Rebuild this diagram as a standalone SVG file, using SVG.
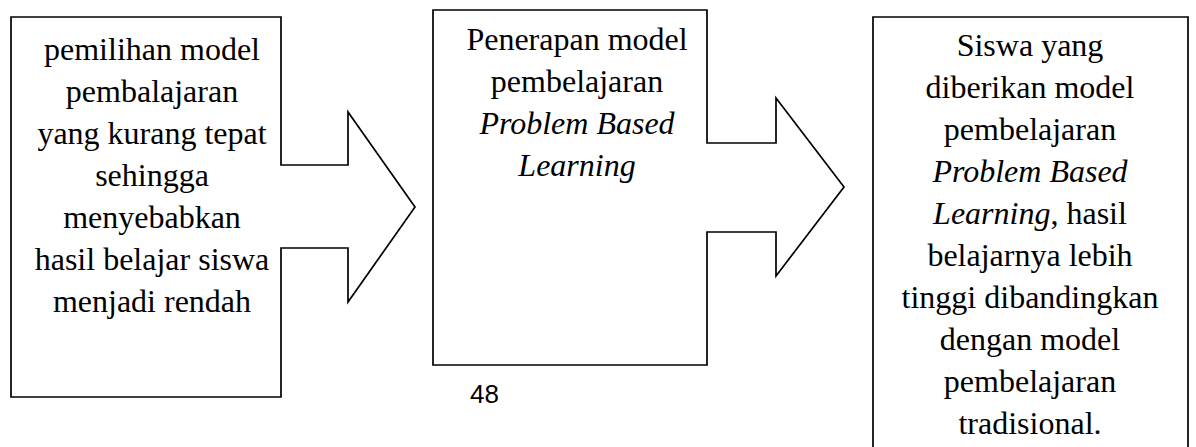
<svg xmlns="http://www.w3.org/2000/svg" width="1196" height="447" viewBox="0 0 1196 447">
<style>
.shape{fill:#fff;stroke:#000;stroke-width:1.7;stroke-linejoin:miter}
.t{font-family:"Liberation Serif","Times New Roman",serif;font-size:32px;fill:#000;text-anchor:middle}
.i{font-style:italic}
.pg{font-family:"Liberation Sans",Arial,sans-serif;font-size:26px;fill:#000}
</style>
<rect width="1196" height="447" fill="#fff"/>
<g id="node-1">
<path class="shape" d="M11,17 H281 V165 H348 V112 L415,207 L348,302 V248 H281 V397 H11 Z"/>
<text class="t" x="152" y="60">pemilihan model</text>
<text class="t" x="152" y="102">pembalajaran</text>
<text class="t" x="152" y="144">yang kurang tepat</text>
<text class="t" x="152" y="186">sehingga</text>
<text class="t" x="152" y="228">menyebabkan</text>
<text class="t" x="152" y="270">hasil belajar siswa</text>
<text class="t" x="152" y="312">menjadi rendah</text>
</g>
<g id="node-2">
<path class="shape" d="M433,10 H707 V143 H776 V98 L844,187 L776,276 V232 H707 V365 H433 Z"/>
<text class="t" x="577" y="50">Penerapan model</text>
<text class="t" x="577" y="92">pembelajaran</text>
<text class="t i" x="577" y="134">Problem Based</text>
<text class="t i" x="577" y="176">Learning</text>
</g>
<g id="node-3">
<path class="shape" d="M873,450 V17 H1188 V450"/>
<text class="t" x="1030" y="56">Siswa yang</text>
<text class="t" x="1030" y="98">diberikan model</text>
<text class="t" x="1030" y="140">pembelajaran</text>
<text class="t i" x="1030" y="182">Problem Based</text>
<text class="t" x="1030" y="224"><tspan class="i">Learning</tspan>, hasil</text>
<text class="t" x="1030" y="266">belajarnya lebih</text>
<text class="t" x="1030" y="308">tinggi dibandingkan</text>
<text class="t" x="1030" y="350">dengan model</text>
<text class="t" x="1030" y="392">pembelajaran</text>
<text class="t" x="1030" y="434">tradisional.</text>
</g>
<g id="connectors"></g>
<text class="pg" x="470" y="403">48</text>
</svg>
